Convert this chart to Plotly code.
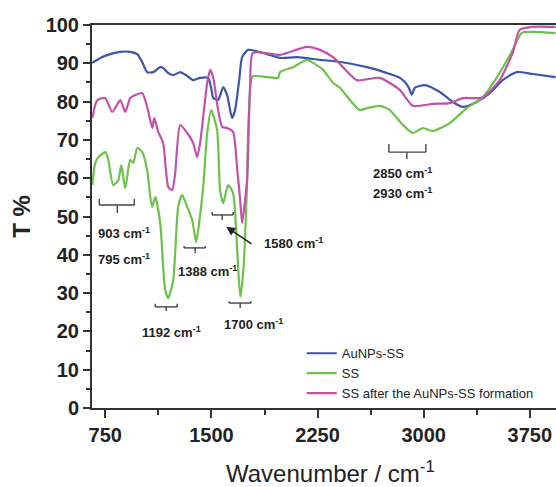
import plotly.graph_objects as go

# ---- data (wavenumber cm-1, transmittance %) ----
blue_wn = [658, 715, 785, 856, 926, 976, 1011, 1046, 1089, 1138, 1159, 1187, 1230, 1279, 1321, 1371,
           1420, 1477, 1498, 1512, 1547, 1583, 1611, 1646, 1667, 1696, 1717, 1759, 1865, 1985, 2105,
           2267, 2359, 2599, 2761, 2832, 2867, 2895, 2916, 2937, 3008, 3114, 3206, 3276, 3375, 3467,
           3558, 3657, 3770, 3932]
blue_t = [90.1, 91.4, 92.4, 93.0, 93.0, 92.4, 90.3, 87.7, 87.7, 89.0, 88.8, 87.7, 86.9, 87.7, 86.9, 85.6,
          86.2, 86.2, 83.6, 81.0, 80.4, 83.8, 81.7, 75.7, 77.8, 85.6, 91.6, 93.5, 92.7, 91.4, 91.6,
          90.9, 90.6, 89.0, 87.2, 86.2, 85.1, 83.6, 81.8, 83.6, 84.3, 82.5, 79.9, 78.6, 79.9, 82.2,
          85.6, 87.7, 87.2, 86.4]

green_wn = [658, 679, 701, 750, 771, 806, 842, 863, 891, 926, 948, 976, 1011, 1046, 1068, 1082, 1103,
            1138, 1173, 1195, 1230, 1265, 1293, 1329, 1364, 1392, 1413, 1442, 1470, 1498, 1540, 1561,
            1583, 1618, 1653, 1681, 1703, 1724, 1752, 1759, 1780, 1794, 1893, 1971, 1985, 2077, 2175,
            2218, 2288, 2359, 2408, 2479, 2549, 2599, 2690, 2761, 2853, 2923, 2994, 3064, 3184, 3304,
            3417, 3537, 3629, 3692, 3770, 3932]
green_t = [58.2, 64.0, 65.5, 66.8, 64.8, 58.2, 59.5, 63.4, 57.4, 64.8, 64.0, 67.9, 66.8, 62.1, 55.1, 52.5, 55.1,
           48.3, 30.8, 28.7, 33.4, 52.5, 55.6, 52.5, 49.1, 43.3, 48.3, 57.7, 71.8, 77.8, 72.6, 56.9,
           53.5, 58.2, 56.1, 42.0, 29.0, 35.2, 59.5, 71.8, 85.6, 86.7, 86.4, 86.2, 87.7, 89.0, 90.9,
           90.1, 88.3, 84.9, 83.6, 80.4, 77.8, 78.3, 78.9, 77.8, 73.9, 71.8, 73.1, 72.3, 74.4, 78.3,
           81.1, 87.5, 93.5, 97.9, 98.2, 97.9]

mag_wn = [658, 694, 750, 799, 856, 891, 926, 962, 1011, 1046, 1082, 1096, 1124, 1159, 1195, 1223, 1244,
          1279, 1329, 1371, 1399, 1420, 1470, 1491, 1512, 1547, 1576, 1611, 1653, 1681, 1703, 1717,
          1738, 1752, 1773, 1794, 1985, 2175, 2267, 2359, 2429, 2528, 2690, 2832, 2923, 3064, 3184,
          3276, 3417, 3537, 3629, 3678, 3770, 3932]
mag_t = [75.7, 80.4, 80.9, 77.3, 80.4, 77.3, 80.9, 81.7, 82.2, 78.6, 73.1, 75.7, 72.1, 69.2, 57.7, 56.9, 61.4,
         73.9, 71.8, 69.2, 65.5, 69.2, 84.9, 88.3, 86.4, 77.8, 73.4, 73.1, 72.1, 62.9, 54.3, 48.3,
         54.3, 59.5, 83.8, 92.7, 92.2, 94.3, 93.5, 91.6, 89.0, 85.6, 86.2, 83.0, 78.9, 79.4, 79.6,
         80.9, 81.1, 85.6, 92.7, 98.7, 99.5, 99.5]

series_names = ["AuNPs-SS", "SS", "SS after the AuNPs-SS formation"]
series_colors = ["#3b55a9", "#6cc24a", "#c451a9"]

x_ticks = [750, 1500, 2250, 3000, 3750]
y_ticks = [0, 10, 20, 30, 40, 50, 60, 70, 80, 90, 100]
x_title = "Wavenumber / cm<sup>-1</sup>"
y_title = "<b>T %</b>"

# bracket annotations: (x_left, x_right, y_base, y_ends, x_tick, y_tick)
brackets = [
    (708, 955, 53.0, 54.6, 835, 50.9),
    (1103, 1258, 26.4, 27.2, 1180, 25.3),
    (1307, 1456, 41.8, 42.3, 1385, 40.5),
    (1505, 1653, 50.4, 51.2, 1576, 49.1),
    (1625, 1780, 27.4, 27.9, 1703, 26.1),
    (2754, 3015, 66.8, 68.9, 2881, 65.0),
]
# labels: (text, x, y)
labels = [
    ("903 cm<sup>-1</sup>", 884, 45.7),
    ("795 cm<sup>-1</sup>", 884, 38.9),
    ("1388 cm<sup>-1</sup>", 1470, 35.8),
    ("1580 cm<sup>-1</sup>", 2077, 43.1),
    ("1192 cm<sup>-1</sup>", 1216, 19.8),
    ("1700 cm<sup>-1</sup>", 1794, 21.9),
    ("2850 cm<sup>-1</sup>", 2853, 61.4),
    ("2930 cm<sup>-1</sup>", 2853, 56.1),
]
arrow_head = (1604, 47.3)
arrow_tail = (1794, 42.6)

fig = go.Figure()
for wn, t, name, col in zip([blue_wn, green_wn, mag_wn], [blue_t, green_t, mag_t],
                            series_names, series_colors):
    fig.add_trace(go.Scatter(x=wn, y=t, mode="lines", name=name,
                             line=dict(color=col, width=2.2, shape="spline", smoothing=0.6)))

bc = "#444444"
for xl, xr, yb, ye, xt, yt in brackets:
    fig.add_shape(type="line", x0=xl, x1=xr, y0=yb, y1=yb, line=dict(color=bc, width=1.4))
    fig.add_shape(type="line", x0=xl, x1=xl, y0=yb, y1=ye, line=dict(color=bc, width=1.4))
    fig.add_shape(type="line", x0=xr, x1=xr, y0=yb, y1=ye, line=dict(color=bc, width=1.4))
    fig.add_shape(type="line", x0=xt, x1=xt, y0=yb, y1=yt, line=dict(color=bc, width=1.4))

for txt, x, y in labels:
    fig.add_annotation(x=x, y=y, text="<b>" + txt + "</b>", showarrow=False,
                       font=dict(family="Liberation Sans", size=13, color="#222222"),
                       xanchor="center", yanchor="middle")

fig.add_annotation(x=arrow_head[0], y=arrow_head[1], ax=arrow_tail[0], ay=arrow_tail[1],
                   axref="x", ayref="y", text="", showarrow=True,
                   arrowhead=2, arrowsize=1.2, arrowwidth=1.5, arrowcolor="#222222")

# x-axis title placed as a paper annotation (axis titles are clamped to the margin)
fig.add_annotation(xref="paper", yref="paper", x=0.513, y=-0.168, text=x_title,
                   showarrow=False, xanchor="center", yanchor="middle",
                   font=dict(family="Liberation Sans", size=24, color="#222222"))

fig.update_layout(
    width=556, height=487,
    margin=dict(l=92, r=0, t=25, b=79),
    paper_bgcolor="white", plot_bgcolor="white",
    showlegend=True,
    legend=dict(x=0.452, y=0.182, xanchor="left", yanchor="top",
                bgcolor="rgba(0,0,0,0)", tracegroupgap=0,
                font=dict(family="Liberation Sans", size=13, color="#222222"),
                itemwidth=30),
    xaxis=dict(range=[656, 3935], tickvals=x_ticks, ticktext=["<b>%d</b>" % v for v in x_ticks],
               showline=True, linecolor="#333333", linewidth=2, mirror=True,
               ticks="outside", ticklen=8, tickwidth=2, tickcolor="#333333",
               minor=dict(dtick=375, tick0=375, ticks="outside", ticklen=5, tickwidth=1.5, tickcolor="#333333"),
               showgrid=False, zeroline=False,
               tickfont=dict(family="Liberation Sans", size=20, color="#222222")),
    yaxis=dict(range=[0, 100], tickvals=y_ticks, ticktext=["<b>%d</b>" % v for v in y_ticks],
               showline=True, linecolor="#333333", linewidth=2,
               ticks="outside", ticklen=7, tickwidth=2, tickcolor="#333333",
               minor=dict(dtick=5, ticks="outside", ticklen=4, tickwidth=1.5, tickcolor="#333333"),
               showgrid=False, zeroline=False,
               tickfont=dict(family="Liberation Sans", size=20, color="#222222"),
               title=dict(text=y_title,
                          font=dict(family="Liberation Sans", size=24, color="#222222"), standoff=8)),
)

fig.write_html("out.html", config={"displayModeBar": False},
               post_script="document.body.style.margin='0';")
